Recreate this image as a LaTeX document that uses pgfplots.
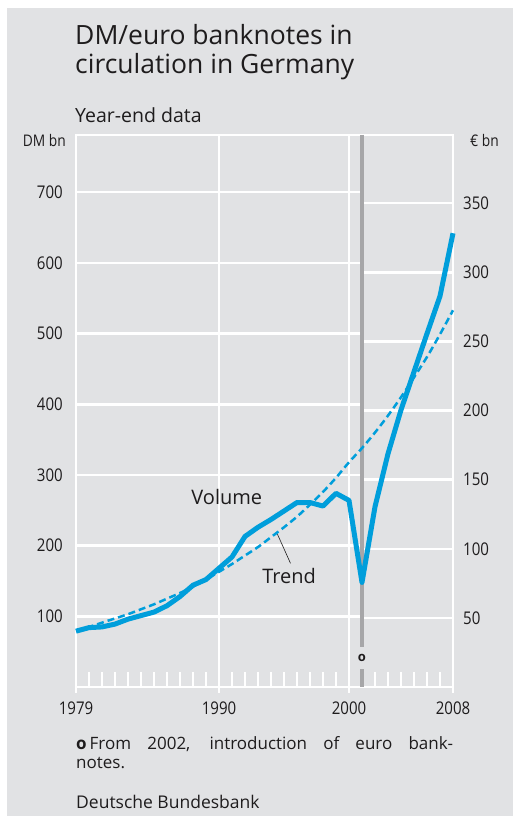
\documentclass[border=0pt]{standalone}
\usepackage{fontspec}
\setmainfont{Open Sans}
\newfontfamily\condfont[FakeStretch=0.86]{Open Sans}
\usepackage{pgfplots}
\pgfplotsset{compat=1.18}
\definecolor{bg}{RGB}{225,226,228}
\definecolor{bbblue}{RGB}{0,158,219}
\definecolor{gline}{RGB}{166,166,168}
\definecolor{txt}{RGB}{30,28,29}

\pgfplotstableread{
year vol
1979 79
1980 84
1981 85
1982 89
1983 96
1984 101
1985 106
1986 115
1987 128
1988 144
1989 152
1990 168
1991 184
1992 213
1993 226
1994 237
1995 249
1996 261
1997 261
1998 256
1999 274
2000 264
2001 148
2002 255
2003 330
2004 392
2005 446
2006 500
2007 553
2008 642
}\volume
\pgfplotstableread{
year trend
1979 80
1980 85
1981 91
1982 97
1983 103
1984 110
1985 117
1986 125
1987 133
1988 142
1989 152
1990 163
1991 174
1992 186
1993 198
1994 212
1995 226
1996 241
1997 258
1998 276
1999 296
2000 318
2001 338
2002 360
2003 384
2004 410
2005 438
2006 467
2007 499
2008 533
}\trend

\begin{document}
\begin{tikzpicture}[x=1pt,y=1pt]
\fill[white] (0,0) rectangle (515,817);
\fill[bg] (7,1) rectangle (513,809);
\node[anchor=base west, inner sep=0, font=\fontsize{26.5}{30}\selectfont, text=txt] at (75,772) {DM/euro banknotes in};
\node[anchor=base west, inner sep=0, font=\fontsize{26.5}{30}\selectfont, text=txt] at (75,743) {circulation in Germany};
\node[anchor=base west, inner sep=0, font=\fontsize{19.5}{22}\selectfont, text=txt] at (75,694) {Year-end data};
\node[anchor=base east, inner sep=0, font=\condfont\fontsize{16}{18}\selectfont, text=txt] at (66,670) {DM bn};
\node[anchor=base west, inner sep=0, font=\condfont\fontsize{16}{18}\selectfont, text=txt] at (470,670) {€ bn};

% euro axis (right)
\begin{axis}[at={(76pt,130pt)}, anchor=south west, scale only axis,
  width=377pt, height=552pt,
  xmin=1979, xmax=2008, ymin=0, ymax=399.3,
  axis y line*=right, hide x axis,
  y axis line style={draw=none},
  ytick={50,100,...,350}, ytick style={draw=none}, major tick length=0pt,
  /pgf/number format/assume math mode=true,
  yticklabel style={anchor=west, inner sep=0pt, xshift=10pt, font=\condfont\fontsize{17.5}{18}\selectfont, text=txt},
  clip=false]
\pgfplotsinvokeforeach{50,100,150,200,250,300,350}{
  \draw[white, line width=2.5pt] (axis cs:2001,#1) -- (axis cs:2008,#1);
}
\end{axis}

% DM axis (left)
\begin{axis}[at={(76pt,130pt)}, anchor=south west, scale only axis,
  width=377pt, height=552pt,
  xmin=1979, xmax=2008, ymin=0, ymax=781,
  axis line style={white, line width=2pt},
  ytick={100,200,...,700}, ytick style={draw=none},
  xtick={1979,1990,2000,2008}, xticklabels={1979,1990,2000,2008},
  xtick style={draw=none}, major tick length=0pt,
  xmajorgrids, grid style={white, line width=2.5pt},
  /pgf/number format/assume math mode=true,
  yticklabel style={anchor=east, inner sep=0pt, xshift=-13pt},
  xticklabel style={anchor=north, inner sep=0pt, yshift=-15pt},
  ticklabel style={font=\condfont\fontsize{17.5}{18}\selectfont, text=txt},
  clip=false]
\pgfplotsinvokeforeach{100,200,300,400,500,600,700}{
  \draw[white, line width=2.5pt] (axis cs:1979,#1) -- (axis cs:2001,#1);
}
\pgfplotsinvokeforeach{1980,...,2007}{
  \draw[white, line width=2pt] (axis cs:#1,0) -- ([yshift=15pt]axis cs:#1,0);
}
\pgfplotsinvokeforeach{1979,1990,2000,2008}{
  \draw[white, line width=2.5pt] (axis cs:#1,0) -- ([yshift=-6pt]axis cs:#1,0);
}
\draw[gline, line width=4pt] (axis cs:2001,781) -- (axis cs:2001,56);
\draw[gline, line width=4pt] (axis cs:2001,25) -- (axis cs:2001,0);
\node[font=\bfseries\fontsize{13}{14}\selectfont, text=txt, inner sep=0] at (axis cs:2001,40.5) {o};

\addplot[bbblue, line width=2.5pt, dash pattern=on 7pt off 4pt, smooth] table[x=year, y=trend] {\trend};
\addplot[bbblue, line width=5pt, line join=round] table[x=year, y=vol] {\volume};

\node[anchor=base, inner sep=0, font=\fontsize{20}{22}\selectfont, text=txt] at (axis cs:1990.6,258) {Volume};
\node[anchor=base, inner sep=0, font=\fontsize{20}{22}\selectfont, text=txt] at (axis cs:1995.4,146) {Trend};
\draw[txt, line width=0.6pt] (axis cs:1994.5,216) -- (axis cs:1995.5,175);
\end{axis}

\node[anchor=base west, inner sep=0, font=\fontsize{17}{19}\selectfont, text=txt] at (76,67)
  {\parbox[t]{377pt}{\textbf{o}\hspace{3pt}From 2002, introduction of euro bank-\linebreak notes.}};
\node[anchor=base west, inner sep=0, font=\fontsize{17.5}{20}\selectfont, text=txt] at (76,9) {Deutsche Bundesbank};
\end{tikzpicture}
\end{document}
